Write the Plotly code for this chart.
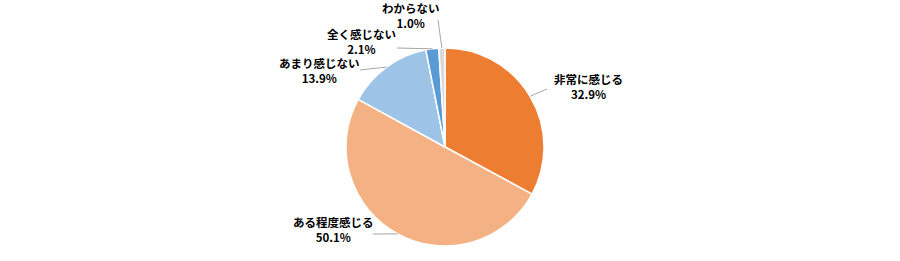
import math
import plotly.graph_objects as go

labels = ["非常に感じる", "ある程度感じる", "あまり感じない", "全く感じない", "わからない"]
values = [32.9, 50.1, 13.9, 2.1, 1.0]
colors = ["#ED7D31", "#F4B183", "#9DC3E6", "#5B9BD5", "#D9D9D9"]

W, H = 900, 261
CX, CY, R = 445, 147, 99

# label layout (pixel positions of text-block centers and leader-line label ends)
label_pos = [(588, 86), (333, 229), (319, 70), (361, 41), (411, 16)]
line_end = [(547, 89), (373, 234), (360, 70), (397, 48), (438, 20)]

fig = go.Figure(go.Pie(
    labels=labels, values=values, sort=False, direction="clockwise", rotation=0,
    marker=dict(colors=colors, line=dict(color="white", width=1.5)),
    textinfo="none", hoverinfo="label+percent", showlegend=False,
    domain=dict(x=[(CX - R) / W, (CX + R) / W], y=[1 - (CY + R) / H, 1 - (CY - R) / H]),
))

font = dict(family="Noto Sans CJK JP, Meiryo, sans-serif", size=11.5, color="#000000")
total = sum(values)
cum = 0.0
shapes = []
annotations = []
for i, (lab, v) in enumerate(zip(labels, values)):
    mid = (cum + v / 2) / total * 2 * math.pi
    cum += v
    px = CX + R * math.sin(mid)
    py = CY - R * math.cos(mid)
    ex, ey = line_end[i]
    shapes.append(dict(type="line", xref="paper", yref="paper",
                       x0=px / W, y0=1 - py / H, x1=ex / W, y1=1 - ey / H,
                       line=dict(color="#A6A6A6", width=1)))
    nx, ny = label_pos[i]
    annotations.append(dict(text=f"<b>{lab}<br>{v:.1f}%</b>", x=nx / W, y=1 - ny / H,
                            xref="paper", yref="paper", align="center",
                            xanchor="center", yanchor="middle", showarrow=False, font=font))

fig.update_layout(width=W, height=H, margin=dict(l=0, r=0, t=0, b=0),
                  paper_bgcolor="white", plot_bgcolor="white",
                  shapes=shapes, annotations=annotations)
fig.write_html("out.html")
